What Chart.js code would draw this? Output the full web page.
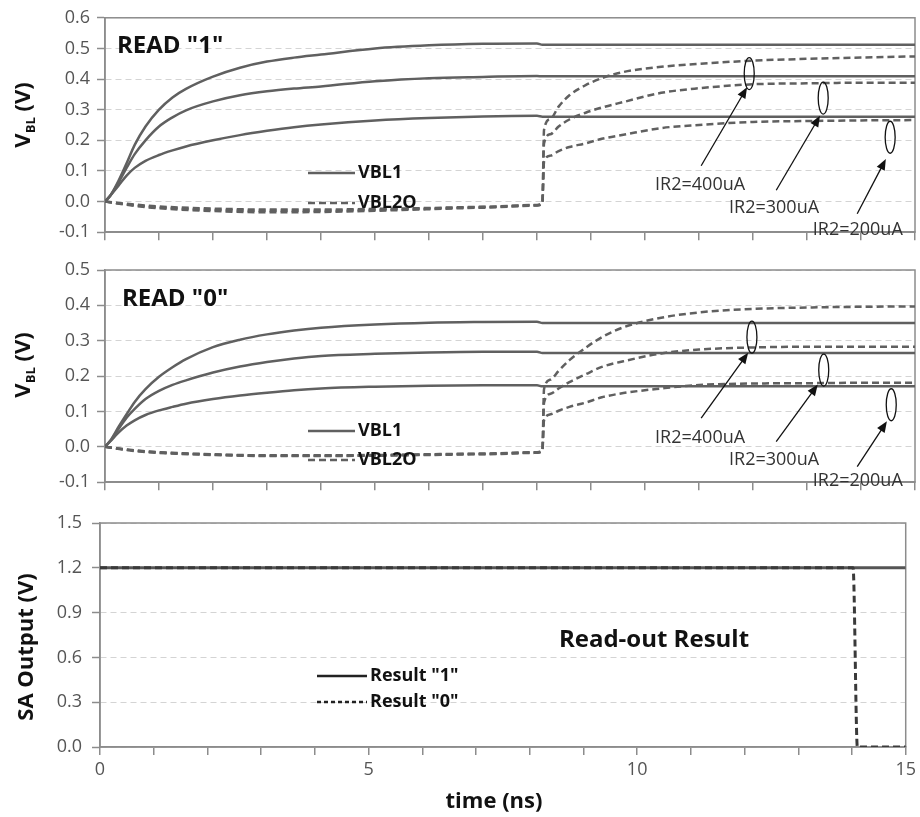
<!DOCTYPE html>
<html>
<head>
<meta charset="utf-8">
<script src="https://cdn.jsdelivr.net/npm/chart.js@4.4.0/dist/chart.umd.min.js"></script>
<style>
  body { margin: 0; background: #fff; width: 920px; height: 817px; position: relative; overflow: hidden; }
  canvas { position: absolute; left: 0; }
</style>
</head>
<body>
<canvas id="read1" width="920" height="250" style="top:0px"></canvas>
<canvas id="read0" width="920" height="250" style="top:250px"></canvas>
<canvas id="saOut" width="920" height="317" style="top:500px"></canvas>
<script>
const FONT = "'Open Sans', 'Noto Sans', sans-serif";

// time samples (ns)
const tCharge = [0, 0.1, 0.25, 0.4, 0.55, 0.75, 1, 1.25, 1.5, 2, 2.5, 3, 3.5, 4, 5, 6, 7, 8, 8.1, 9, 10, 12, 15];
const tSense = [0, 0.5, 1, 2, 3, 4, 5, 6, 7, 8, 8.1, 8.13, 8.25, 8.4, 8.6, 8.9, 9.2, 9.6, 10.3, 11, 12, 13, 14, 15];

// READ "1" : VBL1 (solid) and VBL2O (dashed), IR2 = 400 / 300 / 200 uA
const r1Vbl1_400 = [0, 0.02, 0.068, 0.125, 0.185, 0.245, 0.30, 0.34, 0.368, 0.408, 0.437, 0.457, 0.47, 0.48, 0.50, 0.51, 0.515, 0.516, 0.512, 0.512, 0.512, 0.512, 0.512];
const r1Vbl1_300 = [0, 0.02, 0.062, 0.11, 0.155, 0.20, 0.245, 0.275, 0.298, 0.327, 0.347, 0.36, 0.369, 0.376, 0.393, 0.403, 0.407, 0.41, 0.409, 0.409, 0.409, 0.409, 0.409];
const r1Vbl1_200 = [0, 0.02, 0.052, 0.085, 0.11, 0.133, 0.152, 0.167, 0.18, 0.20, 0.217, 0.231, 0.243, 0.252, 0.265, 0.273, 0.278, 0.28, 0.277, 0.277, 0.277, 0.277, 0.277];
const r1Vbl2_400 = [0, -0.013, -0.022, -0.031, -0.035, -0.034, -0.03, -0.025, -0.02, -0.013, -0.004, 0.234, 0.27, 0.31, 0.347, 0.38, 0.403, 0.423, 0.44, 0.45, 0.46, 0.466, 0.47, 0.474];
const r1Vbl2_300 = [0, -0.011, -0.019, -0.027, -0.03, -0.03, -0.027, -0.023, -0.018, -0.012, -0.004, 0.19, 0.22, 0.245, 0.268, 0.29, 0.307, 0.325, 0.355, 0.37, 0.383, 0.386, 0.388, 0.388];
const r1Vbl2_200 = [0, -0.009, -0.016, -0.023, -0.026, -0.026, -0.024, -0.021, -0.017, -0.011, -0.004, 0.13, 0.15, 0.165, 0.178, 0.19, 0.205, 0.218, 0.24, 0.25, 0.26, 0.263, 0.265, 0.266];

// READ "0"
const r0Vbl1_400 = [0, 0.018, 0.056, 0.092, 0.127, 0.163, 0.198, 0.225, 0.248, 0.282, 0.303, 0.318, 0.329, 0.337, 0.346, 0.351, 0.353, 0.354, 0.35, 0.35, 0.35, 0.35, 0.35];
const r0Vbl1_300 = [0, 0.017, 0.05, 0.082, 0.107, 0.135, 0.158, 0.175, 0.188, 0.21, 0.227, 0.24, 0.25, 0.257, 0.263, 0.267, 0.269, 0.269, 0.265, 0.265, 0.265, 0.265, 0.265];
const r0Vbl1_200 = [0, 0.016, 0.04, 0.06, 0.075, 0.09, 0.103, 0.113, 0.122, 0.135, 0.145, 0.153, 0.16, 0.165, 0.17, 0.173, 0.174, 0.174, 0.171, 0.171, 0.171, 0.171, 0.171];
const r0Vbl2_400 = [0, -0.011, -0.017, -0.023, -0.026, -0.026, -0.025, -0.023, -0.021, -0.017, -0.01, 0.163, 0.19, 0.215, 0.245, 0.28, 0.31, 0.338, 0.365, 0.38, 0.39, 0.394, 0.396, 0.397];
const r0Vbl2_300 = [0, -0.01, -0.016, -0.022, -0.025, -0.025, -0.024, -0.022, -0.02, -0.016, -0.01, 0.125, 0.15, 0.165, 0.183, 0.205, 0.226, 0.242, 0.264, 0.275, 0.281, 0.283, 0.283, 0.283];
const r0Vbl2_200 = [0, -0.009, -0.015, -0.021, -0.024, -0.024, -0.023, -0.021, -0.019, -0.015, -0.01, 0.075, 0.092, 0.102, 0.113, 0.125, 0.14, 0.152, 0.165, 0.175, 0.179, 0.18, 0.181, 0.181];

// SA output
const tResult1 = [0, 15];
const result1 = [1.2, 1.2];
const tResult0 = [0, 14.02, 14.1, 15];
const result0 = [1.2, 1.2, 0, 0];

const currents = ["IR2=400uA", "IR2=300uA", "IR2=200uA"];
const readLegend = ["VBL1", "VBL2O"];
const outLegend = ['Result "1"', 'Result "0"'];

const GREY = "#606060";

function series(t, v, dashed, color, width) {
  return {
    data: t.map((x, i) => ({ x: x, y: v[i] })),
    borderColor: color,
    borderWidth: width,
    borderDash: dashed ? [7, 4] : [],
    pointRadius: 0,
    fill: false,
    cubicInterpolationMode: "monotone"
  };
}

function arrow(ctx, x1, y1, x2, y2) {
  const ang = Math.atan2(y2 - y1, x2 - x1);
  ctx.beginPath();
  ctx.moveTo(x1, y1);
  ctx.lineTo(x2 - 8 * Math.cos(ang), y2 - 8 * Math.sin(ang));
  ctx.stroke();
  ctx.beginPath();
  ctx.moveTo(x2, y2);
  ctx.lineTo(x2 - 11 * Math.cos(ang) + 4.5 * Math.sin(ang), y2 - 11 * Math.sin(ang) - 4.5 * Math.cos(ang));
  ctx.lineTo(x2 - 11 * Math.cos(ang) - 4.5 * Math.sin(ang), y2 - 11 * Math.sin(ang) + 4.5 * Math.cos(ang));
  ctx.closePath();
  ctx.fill();
}

// draws box, titles, legend and the IR2 notes
function decor(p) {
  return {
    id: "decor",
    beforeDatasetsDraw(chart) {
      const { ctx, chartArea: a } = chart;
      ctx.save();
      ctx.strokeStyle = "#8c8c8c";
      ctx.lineWidth = 1.5;
      ctx.strokeRect(a.left, a.top, a.right - a.left, a.bottom - a.top);
      ctx.restore();
    },
    afterDraw(chart) {
      const { ctx, scales: { x, y } } = chart;
      ctx.save();
      ctx.fillStyle = "#111";
      ctx.textBaseline = "alphabetic";

      // panel caption
      ctx.font = "bold 24px " + FONT;
      ctx.textAlign = p.capAlign;
      ctx.fillText(p.caption, p.capX, p.capY);

      // y axis title (rotated)
      ctx.save();
      ctx.translate(p.yTitleX, p.yTitleY);
      ctx.rotate(-Math.PI / 2);
      ctx.textAlign = "left";
      if (p.sub) {
        ctx.font = "bold 22px " + FONT;
        const w1 = ctx.measureText("V").width;
        const w3 = ctx.measureText(" (V)").width;
        ctx.font = "bold 13px " + FONT;
        const w2 = ctx.measureText("BL").width;
        let sx = -(w1 + w2 + w3) / 2;
        ctx.font = "bold 22px " + FONT;
        ctx.fillText("V", sx, 0);
        ctx.font = "bold 13px " + FONT;
        ctx.fillText("BL", sx + w1, 5);
        ctx.font = "bold 22px " + FONT;
        ctx.fillText(" (V)", sx + w1 + w2, 0);
      } else {
        ctx.font = "bold 22px " + FONT;
        ctx.textAlign = "center";
        ctx.fillText(p.yTitle, 0, 0);
      }
      ctx.restore();

      // x axis title
      if (p.xTitle) {
        ctx.font = "bold 22px " + FONT;
        ctx.textAlign = "center";
        ctx.fillText(p.xTitle, p.xTitleX, p.xTitleY);
      }

      // legend
      p.legend.forEach((lg, i) => {
        const ly = p.legY[i];
        ctx.save();
        ctx.strokeStyle = p.legColor;
        ctx.lineWidth = 2.5;
        ctx.setLineDash(i === 1 ? p.legDash : []);
        ctx.beginPath();
        ctx.moveTo(p.legX0, ly);
        ctx.lineTo(p.legX1, ly);
        ctx.stroke();
        ctx.restore();
        ctx.font = "bold 18px " + FONT;
        ctx.textAlign = "left";
        ctx.textBaseline = "middle";
        ctx.fillText(lg, p.legX1 + 3, ly);
      });

      // IR2 notes: ellipse, arrow and label, anchored in data units
      if (p.notes) {
        ctx.strokeStyle = "#111";
        ctx.lineWidth = 1.3;
        p.notes.forEach((n, i) => {
          ctx.fillStyle = "#111";
          ctx.beginPath();
          ctx.ellipse(x.getPixelForValue(n.e[0]), y.getPixelForValue(n.e[1]), 5, 16, 0, 0, Math.PI * 2);
          ctx.stroke();
          arrow(ctx, x.getPixelForValue(n.a[0]), y.getPixelForValue(n.a[1]),
            x.getPixelForValue(n.a[2]), y.getPixelForValue(n.a[3]));
          ctx.font = "18px " + FONT;
          ctx.textAlign = "center";
          ctx.textBaseline = "middle";
          ctx.fillStyle = "#333";
          ctx.fillText(currents[i], x.getPixelForValue(n.l[0]), y.getPixelForValue(n.l[1]));
        });
      }
      ctx.restore();
    }
  };
}

function makeChart(id, datasets, yMin, yMax, yStep, p) {
  return new Chart(document.getElementById(id), {
    type: "line",
    data: { datasets: datasets },
    options: {
      responsive: false,
      animation: false,
      layout: { padding: { top: p.top, right: p.right, left: 0, bottom: 0 } },
      plugins: { legend: { display: false }, tooltip: { enabled: false } },
      scales: {
        x: {
          type: "linear",
          min: 0,
          max: 15,
          ticks: {
            stepSize: 1,
            autoSkip: false,
            maxRotation: 0,
            padding: 4,
            color: "#555",
            font: { family: FONT, size: 18 },
            callback: (v) => (p.xLabels && v % 5 === 0 ? String(v) : "")
          },
          grid: { drawOnChartArea: false, drawTicks: true, tickLength: 8, color: "#8c8c8c", lineWidth: 1.5 },
          border: { color: "#8c8c8c", width: 1.5 },
          afterFit: (s) => { s.height = p.xh; }
        },
        y: {
          min: yMin,
          max: yMax,
          ticks: {
            stepSize: yStep,
            padding: p.yPad,
            color: "#555",
            font: { family: FONT, size: 18 },
            callback: (v) => (Math.abs(v) < 1e-9 ? 0 : Number(v)).toFixed(1)
          },
          grid: { color: "#d4d4d4", lineWidth: 1, tickLength: 8, tickColor: "#8c8c8c", tickWidth: 1.5 },
          border: { color: "#8c8c8c", width: 1.5, dash: [6, 4] },
          afterFit: (s) => { s.width = p.yw; }
        }
      }
    },
    plugins: [decor(p)]
  });
}

makeChart("read1", [
  series(tSense, r1Vbl2_400, true, GREY, 2.5),
  series(tSense, r1Vbl2_300, true, GREY, 2.5),
  series(tSense, r1Vbl2_200, true, GREY, 2.5),
  series(tCharge, r1Vbl1_400, false, GREY, 2.5),
  series(tCharge, r1Vbl1_300, false, GREY, 2.5),
  series(tCharge, r1Vbl1_200, false, GREY, 2.5)
], -0.1, 0.6, 0.1, {
  top: 15, right: 5, xh: 17, yw: 105, yPad: 7, xLabels: false,
  caption: 'READ "1"', capAlign: "left", capX: 117, capY: 53,
  sub: true, yTitleX: 30, yTitleY: 115,
  legend: readLegend, legY: [173, 203], legX0: 308, legX1: 355, legColor: GREY, legDash: [7, 4],
  notes: [
    { e: [11.93, 0.418], a: [11.04, 0.117, 11.89, 0.373], l: [11.02, 0.053] },
    { e: [13.30, 0.338], a: [12.43, 0.037, 13.24, 0.28], l: [12.39, -0.021] },
    { e: [14.54, 0.21], a: [13.93, -0.04, 14.46, 0.139], l: [13.94, -0.091] }
  ]
});

makeChart("read0", [
  series(tSense, r0Vbl2_400, true, GREY, 2.5),
  series(tSense, r0Vbl2_300, true, GREY, 2.5),
  series(tSense, r0Vbl2_200, true, GREY, 2.5),
  series(tCharge, r0Vbl1_400, false, GREY, 2.5),
  series(tCharge, r0Vbl1_300, false, GREY, 2.5),
  series(tCharge, r0Vbl1_200, false, GREY, 2.5)
], -0.1, 0.5, 0.1, {
  top: 20, right: 5, xh: 12, yw: 105, yPad: 7, xLabels: false,
  caption: 'READ "0"', capAlign: "left", capX: 122, capY: 56,
  sub: true, yTitleX: 30, yTitleY: 115,
  legend: readLegend, legY: [181, 210], legX0: 308, legX1: 355, legColor: GREY, legDash: [7, 4],
  notes: [
    { e: [11.98, 0.31], a: [11.04, 0.081, 11.91, 0.266], l: [11.02, 0.026] },
    { e: [13.31, 0.217], a: [12.43, 0.015, 13.2, 0.176], l: [12.39, -0.037] },
    { e: [14.56, 0.119], a: [13.93, -0.056, 14.48, 0.072], l: [13.94, -0.097] }
  ]
});

makeChart("saOut", [
  series(tResult0, result0, true, "#3a3a3a", 3),
  series(tResult1, result1, false, "#555", 3)
], 0, 1.5, 0.3, {
  top: 23, right: 12, xh: 70, yw: 100, yPad: 10, xLabels: true,
  caption: "Read-out Result", capAlign: "center", capX: 654, capY: 147,
  sub: false, yTitle: "SA Output (V)", yTitleX: 33, yTitleY: 147,
  xTitle: "time (ns)", xTitleX: 494, xTitleY: 308,
  legend: outLegend, legY: [176, 202], legX0: 317, legX1: 367, legColor: "#222", legDash: [4, 3]
});
</script>
</body>
</html>
